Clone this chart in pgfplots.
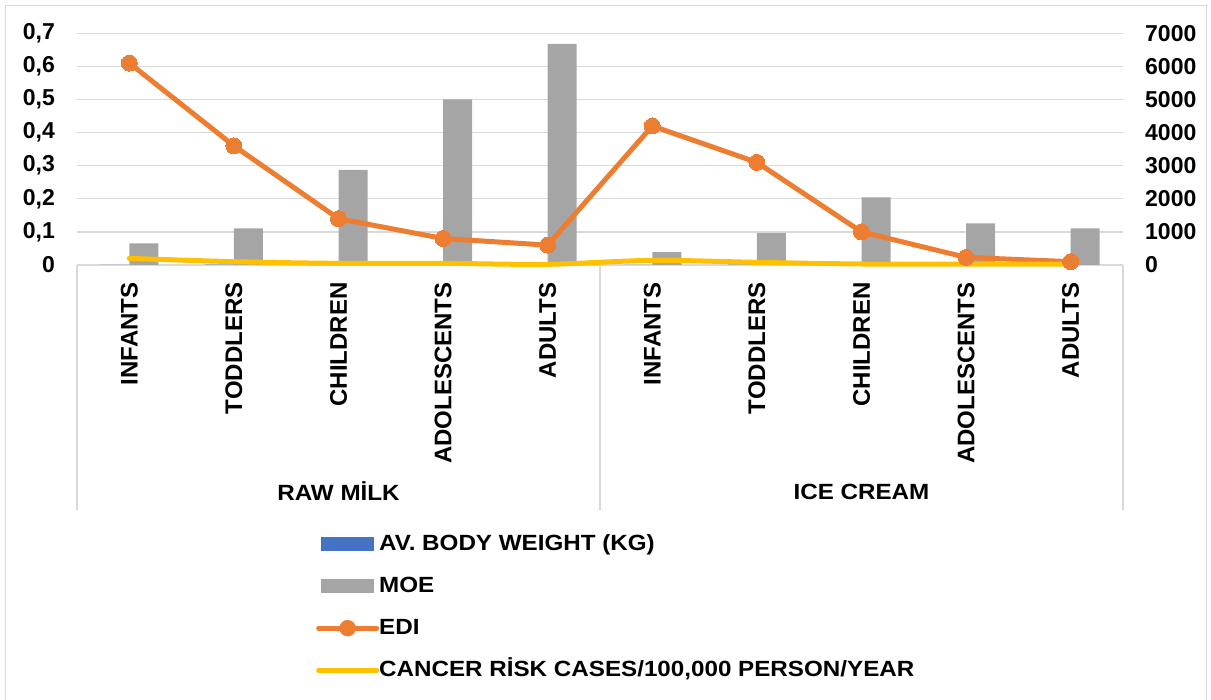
\documentclass[border=0pt]{standalone}
\usepackage{fontspec}
\setmainfont{Liberation Sans}
\newfontfamily\widefont{Liberation Sans}[FakeStretch=1.1]
\usepackage{pgfplots}
\pgfplotsset{compat=1.18}
\definecolor{cBlue}{HTML}{4472C4}
\definecolor{cGray}{HTML}{A5A5A5}
\definecolor{cOrange}{HTML}{ED7D31}
\definecolor{cYellow}{HTML}{FFC000}
\definecolor{cGrid}{HTML}{D9D9D9}
\newcommand{\tickfont}{\bfseries\fontsize{23}{23}\selectfont}
\begin{document}
\begin{tikzpicture}[x=1pt,y=1pt]
\path[use as bounding box] (0,0) rectangle (1211,700);
\draw[cGrid, line width=1.3pt] (5.5,-5) rectangle (1206.5,694.5);
\begin{axis}[
  at={(77pt,435pt)}, anchor=south west, scale only axis,
  width=1046pt, height=231.7pt,
  xmin=-0.5, xmax=9.5, ymin=0, ymax=7000,
  axis x line*=bottom, axis y line*=right,
  x axis line style={draw=cGrid, line width=1.3pt},
  y axis line style={draw=none},
  tick style={draw=none},
  ymajorgrids, grid style={draw=cGrid, line width=1.3pt},
  ytick={0,1000,2000,3000,4000,5000,6000,7000},
  yticklabel style={font=\tickfont, anchor=west, inner sep=0pt, xshift=22pt,
    /pgf/number format/1000 sep={}, /pgf/number format/assume math mode=true},
  xtick={0,1,2,3,4,5,6,7,8,9},
  xticklabels={INFANTS,TODDLERS,CHILDREN,ADOLESCENTS,ADULTS,INFANTS,TODDLERS,CHILDREN,ADOLESCENTS,ADULTS},
  xticklabel style={font=\bfseries\fontsize{24}{24}\selectfont, rotate=90, anchor=east, inner sep=0pt},
  xticklabel shift=13pt,
  ybar=0pt, bar width=29pt,
  clip=false,
]
\addplot[fill=cBlue, draw=none] coordinates {(0,7) (1,12) (2,25) (3,55) (4,70) (5,7) (6,12) (7,25) (8,55) (9,70)};
\addplot[fill=cGray, draw=none] coordinates {(0,655) (1,1105) (2,2870) (3,5005) (4,6680) (5,385) (6,960) (7,2045) (8,1260) (9,1110)};
\draw[cGrid, line width=1.3pt] (axis cs:-0.5,0) -- ++(0pt,-245pt);
\draw[cGrid, line width=1.3pt] (axis cs:4.5,0) -- ++(0pt,-245pt);
\draw[cGrid, line width=1.3pt] (axis cs:9.5,0) -- ++(0pt,-245pt);
\node[font=\widefont\bfseries\fontsize{22}{22}\selectfont] at (axis cs:2,0) [yshift=-226.5pt] {RAW MİLK};
\node[font=\widefont\bfseries\fontsize{22}{22}\selectfont] at (axis cs:7,0) [yshift=-226.5pt] {ICE CREAM};
\end{axis}
\begin{axis}[
  at={(77pt,435pt)}, anchor=south west, scale only axis,
  width=1046pt, height=231.7pt,
  xmin=-0.5, xmax=9.5, ymin=0, ymax=0.7,
  axis x line=none, axis y line*=left,
  y axis line style={draw=none},
  tick style={draw=none},
  ytick={0,0.1,0.2,0.3,0.4,0.5,0.6,0.7},
  yticklabel style={font=\tickfont, anchor=east, inner sep=0pt, xshift=-22pt,
    /pgf/number format/use comma, /pgf/number format/fixed,
    /pgf/number format/precision=1, /pgf/number format/assume math mode=true},
  clip=false,
  legend style={at={(axis description cs:0.2256,-1.1523)}, anchor=north west,
    draw=none, fill=none, font=\widefont\bfseries\fontsize{22}{22}\selectfont,
    row sep=22pt, column sep=0pt,
    nodes={inner sep=0pt, text height=16pt, text depth=4pt}},
  legend cell align=left,
]
\addlegendimage{legend image code/.code={\fill[cBlue] (3pt,-6.5pt) rectangle (55pt,6.5pt);}}
\addlegendentry{AV. BODY WEIGHT (KG)}
\addlegendimage{legend image code/.code={\fill[cGray] (3pt,-6.5pt) rectangle (55pt,6.5pt);}}
\addlegendentry{MOE}
\addlegendimage{legend image code/.code={\draw[cOrange, line width=5pt, line cap=round] (0pt,0pt) -- (58pt,0pt); \fill[cOrange] (29pt,0pt) circle (8pt);}}
\addlegendentry{EDI}
\addlegendimage{legend image code/.code={\draw[cYellow, line width=5pt, line cap=round] (0pt,0pt) -- (58pt,0pt);}}
\addlegendentry{CANCER RİSK CASES/100,000 PERSON/YEAR}
\addplot[forget plot, cOrange, line width=5pt, mark=*, mark size=8pt, mark options={fill=cOrange, draw=cOrange, line width=0pt}]
  coordinates {(0,0.61) (1,0.36) (2,0.14) (3,0.08) (4,0.06) (5,0.42) (6,0.31) (7,0.10) (8,0.023) (9,0.01)};
\addplot[forget plot, cYellow, line width=5pt, smooth, line cap=round]
  coordinates {(0,0.020) (1,0.010) (2,0.005) (3,0.005) (4,0.002) (5,0.014) (6,0.008) (7,0.003) (8,0.003) (9,0.003)};
\end{axis}
\end{tikzpicture}
\end{document}
